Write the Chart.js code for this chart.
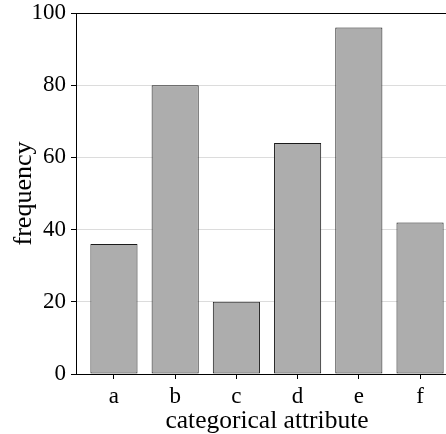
<!DOCTYPE html>
<html><head><meta charset="utf-8">
<script src="https://cdn.jsdelivr.net/npm/chart.js@4/dist/chart.umd.min.js"></script>
<style>html,body{margin:0;padding:0;overflow:hidden;background:#fff;width:446px;height:434px}#wrap{width:462px;height:434px}</style>
</head><body><div id="wrap"><canvas id="c" width="462" height="434"></canvas></div>
<script>
const categories = ['a','b','c','d','e','f'];
const frequency = [36, 80, 20, 64, 96, 42];
const yTicks = [0, 20, 40, 60, 80, 100];

const FONT = "'Liberation Serif', 'Times New Roman', serif";
new Chart(document.getElementById('c'), {
  type: 'bar',
  data: {
    datasets: [{
      data: categories.map((c, i) => ({x: i, y: frequency[i]})),
      backgroundColor: '#adadad',
      borderColor: '#1a1a1a',
      borderWidth: 1,
      borderSkipped: false,
      barPercentage: 1,
      categoryPercentage: 0.77
    }]
  },
  options: {
    responsive: false,
    animation: false,
    layout: {padding: {top: 13, right: 4, left: 0, bottom: 0}},
    plugins: {legend: {display: false}, tooltip: {enabled: false}},
    scales: {
      x: {
        type: 'linear',
        offset: false,
        min: -0.62, max: 5.62,
        afterBuildTicks: s => { s.ticks = categories.map((_, i) => ({value: i})); },
        afterFit: s => { s.height = 60; s.paddingLeft = 0; s.paddingRight = 0; },
        ticks: {
          callback: v => categories[v] ?? '',
          font: {family: FONT, size: 23}, color: '#000', padding: 4, maxRotation: 0, autoSkip: false
        },
        grid: {drawOnChartArea: false, offset: false, tickLength: 5, tickColor: '#000'},
        border: {color: '#000', width: 1},
        title: {display: true, text: 'categorical attribute', font: {family: FONT, size: 25.5}, color: '#000', padding: {top: 0, bottom: -3}}
      },
      y: {
        min: 0, max: 100,
        afterBuildTicks: s => { s.ticks = yTicks.map(v => ({value: v})); },
        afterFit: s => { s.width = 76; s.paddingTop = 0; s.paddingBottom = 0; },
        ticks: {font: {family: FONT, size: 23}, color: '#000', padding: 5},
        grid: {
          color: ctx => ctx.tick && ctx.tick.value === 100 ? '#000' : (ctx.tick && ctx.tick.value === 0 ? 'rgba(0,0,0,0)' : '#dcdcdc'),
          lineWidth: 1,
          tickLength: 5, tickColor: '#000'
        },
        border: {color: '#000', width: 1},
        title: {display: true, text: 'frequency', font: {family: FONT, size: 26}, color: '#000', padding: {top: 9, bottom: 0}}
      }
    }
  }
});
</script></body></html>
